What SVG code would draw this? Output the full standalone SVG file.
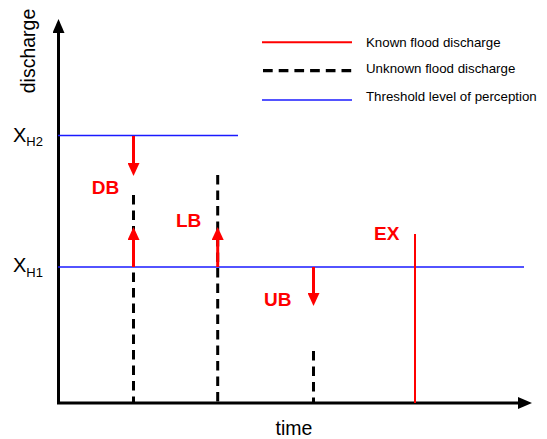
<svg xmlns="http://www.w3.org/2000/svg" width="547" height="439" viewBox="0 0 547 439">
  <style>
    .axis { stroke: #000; stroke-width: 3; fill: none; }
    .thr { stroke: #1a1aff; stroke-width: 1.3; fill: none; }
    .known { stroke: #ff0000; stroke-width: 2; fill: none; }
    .unk { stroke: #000; stroke-width: 3; stroke-dasharray: 9.5 6; fill: none; }
    .bound { stroke: #ff0000; stroke-width: 3; fill: none; marker-end: url(#rh); }
    .lbl { font-family: "Liberation Sans", Arial, sans-serif; fill: #000; }
    .red { font-family: "Liberation Sans", Arial, sans-serif; font-weight: bold; font-size: 19px; fill: #ff0000; }
    .leg { font-family: "Liberation Sans", Arial, sans-serif; font-size: 13.3px; fill: #000; }
  </style>
  <defs>
    <marker id="rh" markerUnits="userSpaceOnUse" markerWidth="13" markerHeight="12" viewBox="0 0 13 12" refX="0" refY="6" orient="auto">
      <path d="M0,0 L13,6 L0,12 z" fill="#ff0000"/>
    </marker>
    <marker id="ah" markerUnits="userSpaceOnUse" markerWidth="14" markerHeight="12" viewBox="0 0 14 12" refX="0" refY="6" orient="auto">
      <path d="M0,0 L14,6 L0,12 z" fill="#000"/>
    </marker>
  </defs>

  <g id="axes">
    <line class="axis" x1="58.5" y1="403" x2="58.5" y2="33" marker-end="url(#ah)"/>
    <line class="axis" x1="57" y1="403" x2="518" y2="403" marker-end="url(#ah)"/>
    <text class="lbl" font-size="19.5" text-anchor="middle" transform="translate(35,51) rotate(-90)">discharge</text>
    <text class="lbl" font-size="19.5" x="294" y="435" text-anchor="middle">time</text>
  </g>

  <g id="thresholds">
    <line class="thr" x1="58" y1="135.5" x2="238" y2="135.5"/>
    <line class="thr" x1="58" y1="267" x2="524" y2="267"/>
    <text class="lbl" font-size="20" x="13" y="141.7">X<tspan font-size="13" dy="4">H2</tspan></text>
    <text class="lbl" font-size="20" x="13" y="271.7">X<tspan font-size="13" dy="5">H1</tspan></text>
  </g>

  <g id="floods">
    <line class="unk" x1="133.5" y1="195" x2="133.5" y2="403"/>
    <line class="unk" x1="217.7" y1="175" x2="217.7" y2="403"/>
    <line class="unk" x1="313.5" y1="351" x2="313.5" y2="403"/>
    <line class="known" x1="415" y1="234" x2="415" y2="403"/>
  </g>

  <g id="connectors">
    <line class="bound" x1="133.5" y1="136" x2="133.5" y2="163"/>
    <line class="bound" x1="133.5" y1="267" x2="133.5" y2="240"/>
    <line class="bound" x1="217.7" y1="267" x2="217.7" y2="240"/>
    <line class="bound" x1="313.5" y1="267" x2="313.5" y2="293"/>
  </g>

  <g id="labels">
    <text class="red" x="91.7" y="194">DB</text>
    <text class="red" x="176" y="226.7">LB</text>
    <text class="red" x="264" y="306">UB</text>
    <text class="red" x="374" y="240">EX</text>
  </g>

  <g id="legend">
    <line class="known" x1="262" y1="42.3" x2="352" y2="42.3"/>
    <text class="leg" x="366" y="46.7">Known flood discharge</text>
    <line stroke="#000" stroke-width="3.3" stroke-dasharray="9.7 6" x1="263" y1="70.7" x2="352" y2="70.7"/>
    <text class="leg" x="366" y="73.3">Unknown flood discharge</text>
    <line class="thr" x1="262" y1="100" x2="352" y2="100"/>
    <text class="leg" x="366" y="101">Threshold level of perception</text>
  </g>
</svg>
